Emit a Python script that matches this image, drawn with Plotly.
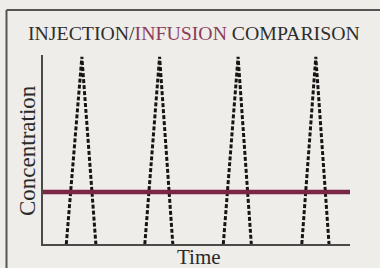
import plotly.graph_objects as go

# ---- data ----
peak_times = [0.50, 1.50, 2.51, 3.51]
start_times = [0.30, 1.31, 2.32, 3.33]
end_times = [0.68, 1.67, 2.68, 3.68]
peak_conc = 0.99
infusion_level = 0.275
x_range = [0, 3.95]

title_parts = ["INJECTION/", "INFUSION", " COMPARISON"]
x_title = "Time"
y_title = "Concentration"

W, H = 380, 268
L, R, T, B = 43, 30, 55, 24
pw, ph = W - L - R, H - T - B

def px(x):
    return (x - L) / pw

def py(y):
    return (H - B - y) / ph

bg = "#eeede9"
fig = go.Figure()

# injection spikes
for s, p, e in zip(start_times, peak_times, end_times):
    fig.add_trace(go.Scatter(
        x=[s, p, e], y=[0, peak_conc, 0], mode="lines",
        line=dict(color="#151515", width=3, dash="4px,2px"),
        hoverinfo="skip", showlegend=False))

# infusion line
fig.add_trace(go.Scatter(
    x=[x_range[0], x_range[1]], y=[infusion_level, infusion_level], mode="lines",
    line=dict(color="#7a2743", width=4.5), hoverinfo="skip", showlegend=False))

serif = "Liberation Serif, Times New Roman, serif"

fig.update_layout(
    width=W, height=H,
    margin=dict(l=L, r=R, t=T, b=B),
    paper_bgcolor=bg, plot_bgcolor=bg,
    showlegend=False,
    xaxis=dict(range=x_range, showgrid=False, zeroline=False, showticklabels=False,
               ticks="", showline=True, linecolor="#4a4a4a", linewidth=2),
    yaxis=dict(range=[0, 1], showgrid=False, zeroline=False, showticklabels=False,
               ticks="", showline=True, linecolor="#4a4a4a", linewidth=2),
    font=dict(family=serif, color="#2e2e2e"),
)

fig.add_annotation(
    text=title_parts[0] + "<span style='color:#8d3c58'>" + title_parts[1] + "</span>" + title_parts[2],
    xref="paper", yref="paper", x=px(194), y=py(33), xanchor="center", yanchor="middle",
    showarrow=False, font=dict(size=19.8, family=serif, color="#2e2e2e"))

fig.add_annotation(
    text=x_title, xref="paper", yref="paper", x=px(199), y=py(257),
    xanchor="center", yanchor="middle", showarrow=False,
    font=dict(size=21, family=serif, color="#2a2a2a"))

fig.add_annotation(
    text=y_title, xref="paper", yref="paper", x=px(27), y=py(151),
    xanchor="center", yanchor="middle", textangle=-90, showarrow=False,
    font=dict(size=23, family=serif, color="#2a2a2a"))

# outer frame (left and top edges)
fig.add_shape(type="line", xref="paper", yref="paper",
              x0=px(6.5), x1=px(6.5), y0=py(10), y1=py(270),
              line=dict(color="#555555", width=2))
fig.add_shape(type="line", xref="paper", yref="paper",
              x0=px(6.5), x1=px(382), y0=py(10), y1=py(10),
              line=dict(color="#555555", width=2))

fig.write_html("out.html", config={"displayModeBar": False, "staticPlot": True},
               post_script="document.body.style.margin='0px';document.body.style.background='%s';" % bg)
